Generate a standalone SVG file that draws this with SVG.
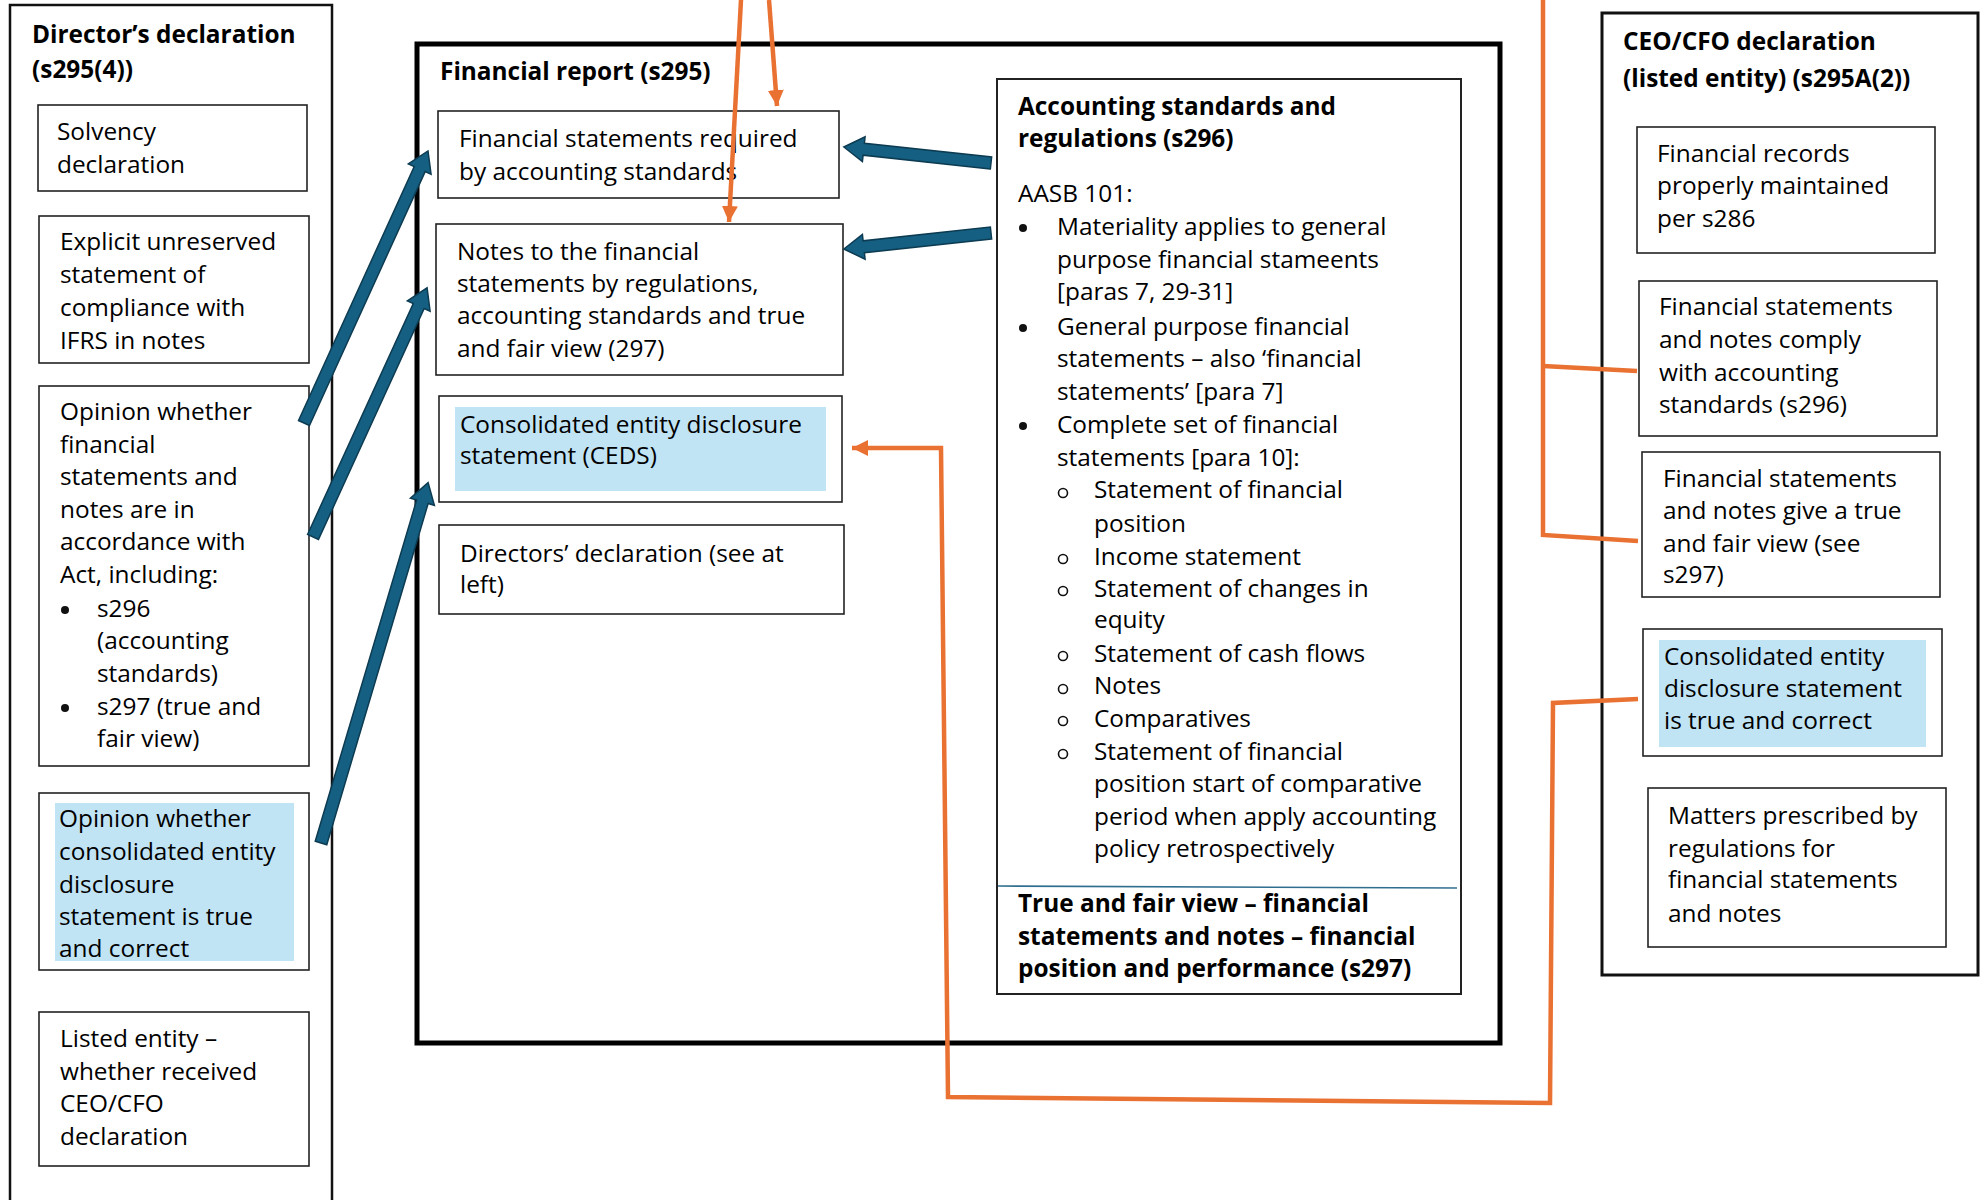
<svg xmlns="http://www.w3.org/2000/svg" width="1982" height="1200" viewBox="0 0 1982 1200">
<style>
text{font-family:"Open Sans","Noto Sans","Liberation Sans",sans-serif;font-size:24.4px;fill:#000}
.b{font-weight:700}
.box{fill:#fff;stroke:#222;stroke-width:1.6}
.hl{fill:#C1E4F5}
.oc{fill:none;stroke:#E97132;stroke-width:4.5}
.ba{fill:#156082;stroke:#0C3B52;stroke-width:1.5}
</style>
<defs>
<marker id="oh" markerUnits="userSpaceOnUse" markerWidth="18" markerHeight="16" refX="16" refY="8" orient="auto">
<path d="M0,0 L16,8 L0,16 Z" fill="#E97132"/>
</marker>
</defs>
<rect width="1982" height="1200" fill="#fff"/>

<g id="directors-declaration">
<rect x="10" y="5" width="322" height="1200" fill="none" stroke="#111" stroke-width="2.5"/>
<text class="b" x="32" y="43">Director’s declaration</text>
<text class="b" x="32" y="78">(s295(4))</text>
</g>
<g id="solvency">
<rect class="box" x="38" y="105" width="269" height="86"/>
<text x="57" y="140">Solvency</text>
<text x="57" y="173">declaration</text>
</g>
<g id="explicit">
<rect class="box" x="39" y="216" width="270" height="147"/>
<text x="60" y="250">Explicit unreserved</text>
<text x="60" y="283">statement of</text>
<text x="60" y="316">compliance with</text>
<text x="60" y="349">IFRS in notes</text>
</g>
<g id="opinion-fs">
<rect class="box" x="39" y="386" width="270" height="380"/>
<text x="60" y="420">Opinion whether</text>
<text x="60" y="453">financial</text>
<text x="60" y="485">statements and</text>
<text x="60" y="518">notes are in</text>
<text x="60" y="550">accordance with</text>
<text x="60" y="583">Act, including:</text>
<circle cx="65" cy="610" r="4" fill="#111"/>
<text x="97" y="617">s296</text>
<text x="97" y="649">(accounting</text>
<text x="97" y="682">standards)</text>
<circle cx="65" cy="708" r="4" fill="#111"/>
<text x="97" y="715">s297 (true and</text>
<text x="97" y="747">fair view)</text>
</g>
<g id="opinion-ceds">
<rect class="box" x="39" y="793" width="270" height="177"/>
<rect class="hl" x="55" y="803" width="239" height="158"/>
<text x="59" y="827">Opinion whether</text>
<text x="59" y="860">consolidated entity</text>
<text x="59" y="893">disclosure</text>
<text x="59" y="925">statement is true</text>
<text x="59" y="957">and correct</text>
</g>
<g id="listed-entity">
<rect class="box" x="39" y="1012" width="270" height="154"/>
<text x="60" y="1047">Listed entity –</text>
<text x="60" y="1080">whether received</text>
<text x="60" y="1112">CEO/CFO</text>
<text x="60" y="1145">declaration</text>
</g>

<g id="financial-report">
<rect x="417" y="44" width="1083" height="999" fill="none" stroke="#000" stroke-width="5"/>
<text class="b" x="440" y="80">Financial report (s295)</text>
</g>
<g id="fs-required">
<rect class="box" x="438" y="111" width="401" height="87"/>
<text x="459" y="147">Financial statements required</text>
<text x="459" y="180">by accounting standards</text>
</g>
<g id="notes">
<rect class="box" x="436" y="224" width="407" height="151"/>
<text x="457" y="260">Notes to the financial</text>
<text x="457" y="292">statements by regulations,</text>
<text x="457" y="324">accounting standards and true</text>
<text x="457" y="357">and fair view (297)</text>
</g>
<g id="ceds">
<rect class="box" x="439" y="396" width="403" height="106"/>
<rect class="hl" x="455" y="407" width="371" height="84"/>
<text x="460" y="433">Consolidated entity disclosure</text>
<text x="460" y="464">statement (CEDS)</text>
</g>
<g id="directors-decl-ref">
<rect class="box" x="439" y="525" width="405" height="89"/>
<text x="460" y="562">Directors’ declaration (see at</text>
<text x="460" y="593">left)</text>
</g>

<g id="accounting-standards">
<rect x="997" y="79" width="464" height="915" fill="#fff" stroke="#222" stroke-width="2"/>
<text class="b" x="1018" y="115">Accounting standards and</text>
<text class="b" x="1018" y="147">regulations (s296)</text>
<text x="1018" y="202">AASB 101:</text>
<circle cx="1023" cy="228" r="4" fill="#111"/>
<text x="1057" y="235">Materiality applies to general</text>
<text x="1057" y="268">purpose financial stameents</text>
<text x="1057" y="300">[paras 7, 29-31]</text>
<circle cx="1023" cy="328" r="4" fill="#111"/>
<text x="1057" y="335">General purpose financial</text>
<text x="1057" y="367">statements – also ‘financial</text>
<text x="1057" y="400">statements’ [para 7]</text>
<circle cx="1023" cy="426" r="4" fill="#111"/>
<text x="1057" y="433">Complete set of financial</text>
<text x="1057" y="466">statements [para 10]:</text>
<g fill="none" stroke="#111" stroke-width="1.6">
<circle cx="1063" cy="493" r="4.5"/>
<circle cx="1063" cy="559" r="4.5"/>
<circle cx="1063" cy="591" r="4.5"/>
<circle cx="1063" cy="656" r="4.5"/>
<circle cx="1063" cy="689" r="4.5"/>
<circle cx="1063" cy="721" r="4.5"/>
<circle cx="1063" cy="754" r="4.5"/>
</g>
<text x="1094" y="498">Statement of financial</text>
<text x="1094" y="532">position</text>
<text x="1094" y="565">Income statement</text>
<text x="1094" y="597">Statement of changes in</text>
<text x="1094" y="628">equity</text>
<text x="1094" y="662">Statement of cash flows</text>
<text x="1094" y="694">Notes</text>
<text x="1094" y="727">Comparatives</text>
<text x="1094" y="760">Statement of financial</text>
<text x="1094" y="792">position start of comparative</text>
<text x="1094" y="825">period when apply accounting</text>
<text x="1094" y="857">policy retrospectively</text>
<line x1="998" y1="886" x2="1457" y2="888" stroke="#2F6E8F" stroke-width="1.6"/>
<text class="b" x="1018" y="912">True and fair view – financial</text>
<text class="b" x="1018" y="945">statements and notes – financial</text>
<text class="b" x="1018" y="977">position and performance (s297)</text>
</g>

<g id="ceo-cfo-declaration">
<rect x="1602" y="13" width="376" height="962" fill="none" stroke="#111" stroke-width="3"/>
<text class="b" x="1623" y="50">CEO/CFO declaration</text>
<text class="b" x="1623" y="87">(listed entity) (s295A(2))</text>
</g>
<g id="financial-records">
<rect class="box" x="1637" y="127" width="298" height="126"/>
<text x="1657" y="162">Financial records</text>
<text x="1657" y="194">properly maintained</text>
<text x="1657" y="227">per s286</text>
</g>
<g id="fs-comply">
<rect class="box" x="1639" y="281" width="298" height="155"/>
<text x="1659" y="315">Financial statements</text>
<text x="1659" y="348">and notes comply</text>
<text x="1659" y="381">with accounting</text>
<text x="1659" y="413">standards (s296)</text>
</g>
<g id="fs-true-fair">
<rect class="box" x="1642" y="452" width="298" height="145"/>
<text x="1663" y="487">Financial statements</text>
<text x="1663" y="519">and notes give a true</text>
<text x="1663" y="552">and fair view (see</text>
<text x="1663" y="583">s297)</text>
</g>
<g id="ceds-true-correct">
<rect class="box" x="1643" y="629" width="299" height="127"/>
<rect class="hl" x="1659" y="640" width="267" height="107"/>
<text x="1664" y="665">Consolidated entity</text>
<text x="1664" y="697">disclosure statement</text>
<text x="1664" y="729">is true and correct</text>
</g>
<g id="matters-prescribed">
<rect class="box" x="1648" y="788" width="298" height="159"/>
<text x="1668" y="824">Matters prescribed by</text>
<text x="1668" y="857">regulations for</text>
<text x="1668" y="888">financial statements</text>
<text x="1668" y="922">and notes</text>
</g>

<g id="connectors">
<polyline class="oc" points="741,0 729,222" marker-end="url(#oh)"/>
<polyline class="oc" points="769,0 777,106" marker-end="url(#oh)"/>
<polyline class="oc" points="1543,0 1543,535 1638,541"/>
<polyline class="oc" points="1543,366 1637,371"/>
<polyline class="oc" points="1638,699 1553,703 1550,1103 948,1097 941,448 852,448" marker-end="url(#oh)"/>
<polygon class="ba" points="0,-6 279,-6 279,-12.5 299,0 279,12.5 279,6 0,6" transform="translate(304,423) rotate(-65.5)"/>
<polygon class="ba" points="0,-6 254,-6 254,-12.5 274,0 254,12.5 254,6 0,6" transform="translate(313,537) rotate(-65.4)"/>
<polygon class="ba" points="0,-6 356,-6 356,-12.5 376,0 356,12.5 356,6 0,6" transform="translate(321,843) rotate(-73.45)"/>
<polygon class="ba" points="0,-6 128,-6 128,-12.5 148,0 128,12.5 128,6 0,6" transform="translate(991,163) rotate(-173.8)"/>
<polygon class="ba" points="0,-6 128,-6 128,-12.5 148,0 128,12.5 128,6 0,6" transform="translate(991,233) rotate(173.8)"/>
</g>
</svg>
